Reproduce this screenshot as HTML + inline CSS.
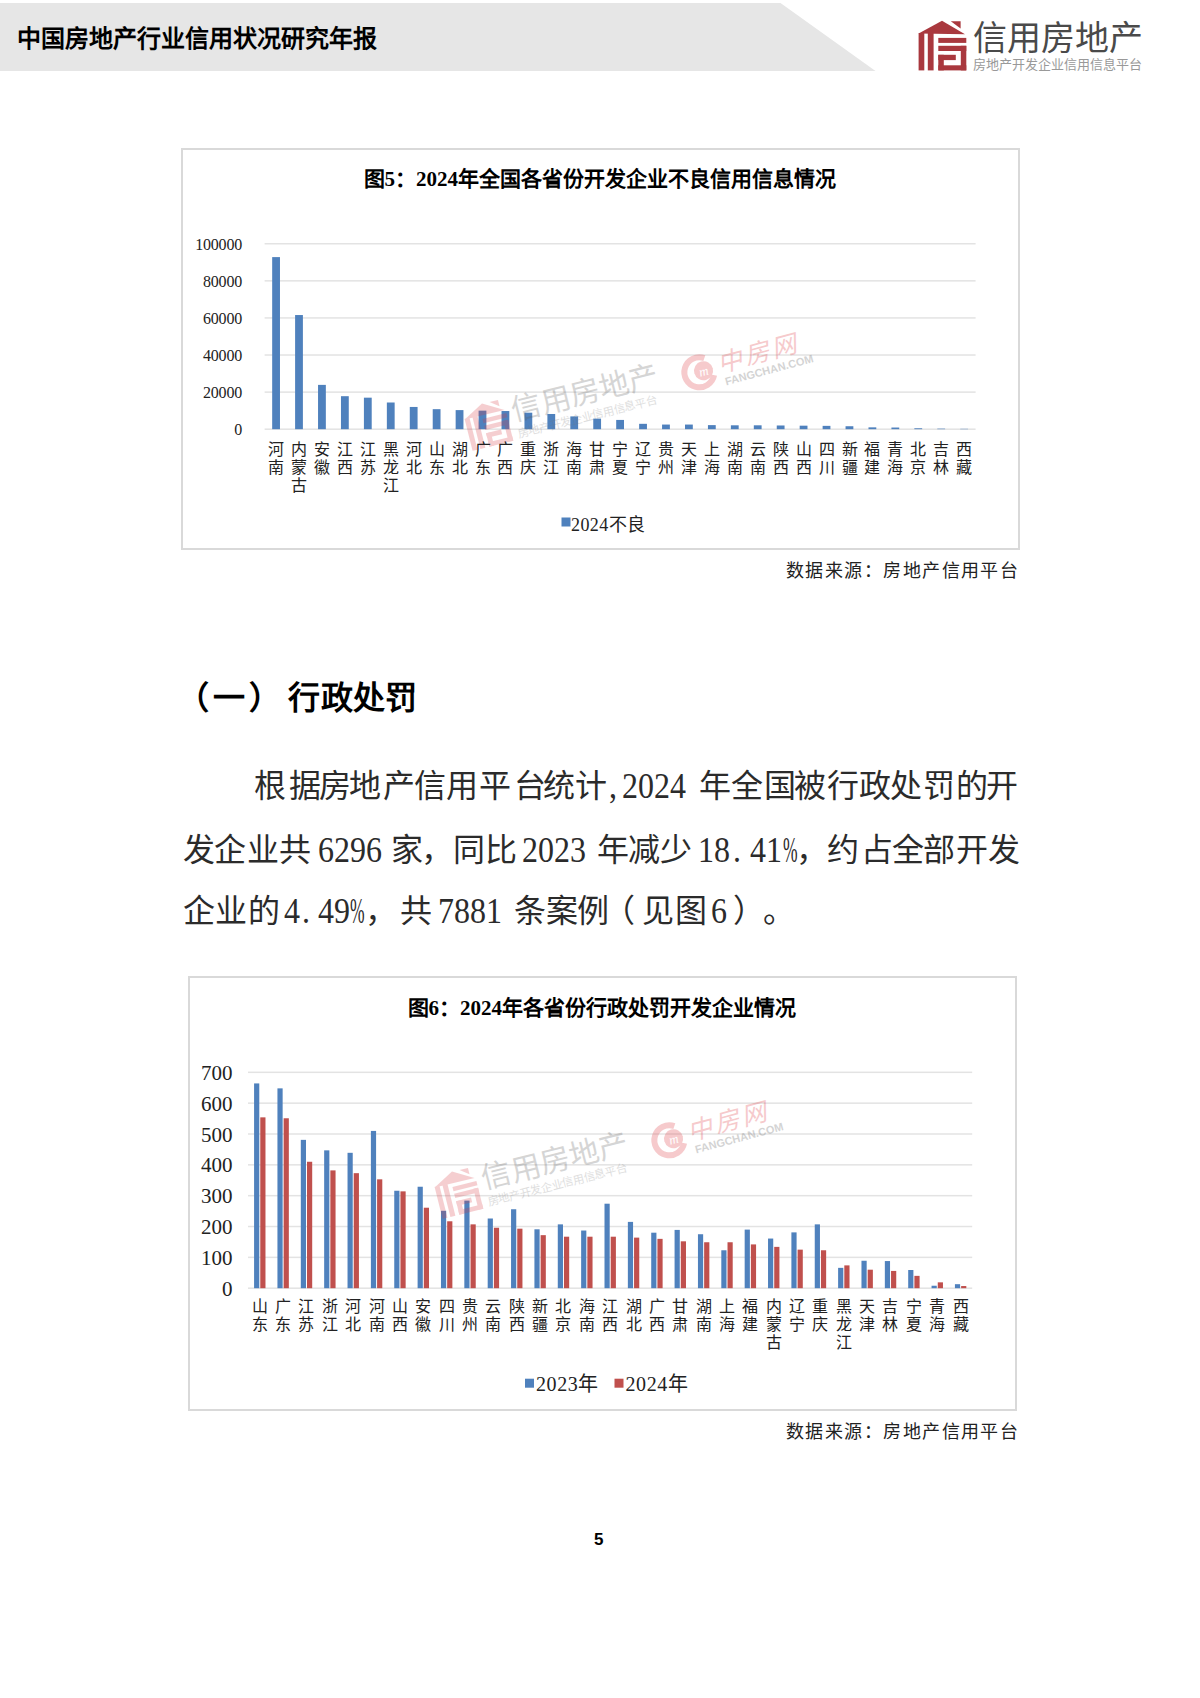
<!DOCTYPE html>
<html lang="zh-CN"><head><meta charset="utf-8">
<style>
html,body{margin:0;padding:0;background:#fff;}
body{width:1200px;height:1698px;position:relative;overflow:hidden;font-family:"Liberation Serif",serif;color:#000;}
.a{position:absolute;white-space:nowrap;}
svg.ov{position:absolute;left:0;top:0;}
.yl1{position:absolute;right:958px;font-size:16px;line-height:18px;color:#222;letter-spacing:-0.2px;}
.yl2{position:absolute;right:967.5px;font-size:21px;line-height:22px;color:#222;}
.xl1{position:absolute;top:440.5px;width:20px;text-align:center;font-size:16px;line-height:18.4px;color:#222;}
.xl2{position:absolute;top:1297.5px;width:20px;text-align:center;font-size:16px;line-height:18px;color:#222;}
</style></head><body>
<svg class="ov" width="1200" height="1698" viewBox="0 0 1200 1698">
<polygon points="0,3 780.5,3 875.5,71 0,71" fill="#e6e6e6"/>
<rect x="182" y="149" width="837" height="400" fill="none" stroke="#d9d9d9" stroke-width="2"/>
<rect x="189" y="977" width="827" height="433" fill="none" stroke="#d9d9d9" stroke-width="2"/>
<rect x="264.6" y="428.45" width="711.0" height="1.5" fill="#e3e3e3"/>
<rect x="264.6" y="391.36" width="711.0" height="1.5" fill="#e3e3e3"/>
<rect x="264.6" y="354.27" width="711.0" height="1.5" fill="#e3e3e3"/>
<rect x="264.6" y="317.18" width="711.0" height="1.5" fill="#e3e3e3"/>
<rect x="264.6" y="280.09" width="711.0" height="1.5" fill="#e3e3e3"/>
<rect x="264.6" y="243.00" width="711.0" height="1.5" fill="#e3e3e3"/>
<rect x="272.17" y="257.10" width="7.8" height="172.10" fill="#4f81bd"/>
<rect x="295.10" y="315.04" width="7.8" height="114.16" fill="#4f81bd"/>
<rect x="318.04" y="384.88" width="7.8" height="44.32" fill="#4f81bd"/>
<rect x="340.97" y="396.19" width="7.8" height="33.01" fill="#4f81bd"/>
<rect x="363.91" y="397.67" width="7.8" height="31.53" fill="#4f81bd"/>
<rect x="386.85" y="402.50" width="7.8" height="26.70" fill="#4f81bd"/>
<rect x="409.78" y="406.95" width="7.8" height="22.25" fill="#4f81bd"/>
<rect x="432.72" y="409.17" width="7.8" height="20.03" fill="#4f81bd"/>
<rect x="455.65" y="410.10" width="7.8" height="19.10" fill="#4f81bd"/>
<rect x="478.59" y="410.65" width="7.8" height="18.55" fill="#4f81bd"/>
<rect x="501.52" y="411.03" width="7.8" height="18.17" fill="#4f81bd"/>
<rect x="524.46" y="412.69" width="7.8" height="16.51" fill="#4f81bd"/>
<rect x="547.39" y="413.99" width="7.8" height="15.21" fill="#4f81bd"/>
<rect x="570.33" y="416.40" width="7.8" height="12.80" fill="#4f81bd"/>
<rect x="593.26" y="418.63" width="7.8" height="10.57" fill="#4f81bd"/>
<rect x="616.20" y="419.93" width="7.8" height="9.27" fill="#4f81bd"/>
<rect x="639.14" y="423.82" width="7.8" height="5.38" fill="#4f81bd"/>
<rect x="662.07" y="424.56" width="7.8" height="4.64" fill="#4f81bd"/>
<rect x="685.01" y="424.56" width="7.8" height="4.64" fill="#4f81bd"/>
<rect x="707.94" y="425.12" width="7.8" height="4.08" fill="#4f81bd"/>
<rect x="730.88" y="425.31" width="7.8" height="3.89" fill="#4f81bd"/>
<rect x="753.81" y="425.31" width="7.8" height="3.89" fill="#4f81bd"/>
<rect x="776.75" y="425.49" width="7.8" height="3.71" fill="#4f81bd"/>
<rect x="799.68" y="425.68" width="7.8" height="3.52" fill="#4f81bd"/>
<rect x="822.62" y="425.86" width="7.8" height="3.34" fill="#4f81bd"/>
<rect x="845.55" y="426.23" width="7.8" height="2.97" fill="#4f81bd"/>
<rect x="868.49" y="427.35" width="7.8" height="1.85" fill="#4f81bd"/>
<rect x="891.43" y="427.53" width="7.8" height="1.67" fill="#4f81bd"/>
<rect x="914.36" y="428.27" width="7.8" height="0.93" fill="#4f81bd"/>
<rect x="937.30" y="428.64" width="7.8" height="0.56" fill="#4f81bd"/>
<rect x="960.23" y="428.83" width="7.8" height="0.37" fill="#4f81bd"/>
<rect x="248.0" y="1287.45" width="724.2" height="1.5" fill="#e3e3e3"/>
<rect x="248.0" y="1256.61" width="724.2" height="1.5" fill="#e3e3e3"/>
<rect x="248.0" y="1225.77" width="724.2" height="1.5" fill="#e3e3e3"/>
<rect x="248.0" y="1194.93" width="724.2" height="1.5" fill="#e3e3e3"/>
<rect x="248.0" y="1164.09" width="724.2" height="1.5" fill="#e3e3e3"/>
<rect x="248.0" y="1133.25" width="724.2" height="1.5" fill="#e3e3e3"/>
<rect x="248.0" y="1102.41" width="724.2" height="1.5" fill="#e3e3e3"/>
<rect x="248.0" y="1071.57" width="724.2" height="1.5" fill="#e3e3e3"/>
<rect x="254.08" y="1083.42" width="5.2" height="204.78" fill="#4f81bd"/>
<rect x="260.28" y="1117.35" width="5.2" height="170.85" fill="#c0504d"/>
<rect x="277.44" y="1088.36" width="5.2" height="199.84" fill="#4f81bd"/>
<rect x="283.64" y="1118.27" width="5.2" height="169.93" fill="#c0504d"/>
<rect x="300.80" y="1139.86" width="5.2" height="148.34" fill="#4f81bd"/>
<rect x="307.00" y="1161.76" width="5.2" height="126.44" fill="#c0504d"/>
<rect x="324.16" y="1150.35" width="5.2" height="137.85" fill="#4f81bd"/>
<rect x="330.36" y="1170.39" width="5.2" height="117.81" fill="#c0504d"/>
<rect x="347.53" y="1152.81" width="5.2" height="135.39" fill="#4f81bd"/>
<rect x="353.73" y="1173.17" width="5.2" height="115.03" fill="#c0504d"/>
<rect x="370.89" y="1130.92" width="5.2" height="157.28" fill="#4f81bd"/>
<rect x="377.09" y="1179.33" width="5.2" height="108.87" fill="#c0504d"/>
<rect x="394.25" y="1190.75" width="5.2" height="97.45" fill="#4f81bd"/>
<rect x="400.45" y="1191.36" width="5.2" height="96.84" fill="#c0504d"/>
<rect x="417.61" y="1186.74" width="5.2" height="101.46" fill="#4f81bd"/>
<rect x="423.81" y="1207.71" width="5.2" height="80.49" fill="#c0504d"/>
<rect x="440.97" y="1210.79" width="5.2" height="77.41" fill="#4f81bd"/>
<rect x="447.17" y="1221.28" width="5.2" height="66.92" fill="#c0504d"/>
<rect x="464.33" y="1200.61" width="5.2" height="87.59" fill="#4f81bd"/>
<rect x="470.53" y="1224.36" width="5.2" height="63.84" fill="#c0504d"/>
<rect x="487.69" y="1218.50" width="5.2" height="69.70" fill="#4f81bd"/>
<rect x="493.89" y="1227.75" width="5.2" height="60.45" fill="#c0504d"/>
<rect x="511.05" y="1209.25" width="5.2" height="78.95" fill="#4f81bd"/>
<rect x="517.25" y="1228.68" width="5.2" height="59.52" fill="#c0504d"/>
<rect x="534.42" y="1229.30" width="5.2" height="58.90" fill="#4f81bd"/>
<rect x="540.62" y="1235.16" width="5.2" height="53.04" fill="#c0504d"/>
<rect x="557.78" y="1224.36" width="5.2" height="63.84" fill="#4f81bd"/>
<rect x="563.98" y="1236.70" width="5.2" height="51.50" fill="#c0504d"/>
<rect x="581.14" y="1230.53" width="5.2" height="57.67" fill="#4f81bd"/>
<rect x="587.34" y="1236.70" width="5.2" height="51.50" fill="#c0504d"/>
<rect x="604.50" y="1203.70" width="5.2" height="84.50" fill="#4f81bd"/>
<rect x="610.70" y="1236.70" width="5.2" height="51.50" fill="#c0504d"/>
<rect x="627.86" y="1221.89" width="5.2" height="66.31" fill="#4f81bd"/>
<rect x="634.06" y="1237.62" width="5.2" height="50.58" fill="#c0504d"/>
<rect x="651.22" y="1232.69" width="5.2" height="55.51" fill="#4f81bd"/>
<rect x="657.42" y="1238.86" width="5.2" height="49.34" fill="#c0504d"/>
<rect x="674.58" y="1229.91" width="5.2" height="58.29" fill="#4f81bd"/>
<rect x="680.78" y="1241.32" width="5.2" height="46.88" fill="#c0504d"/>
<rect x="697.95" y="1234.23" width="5.2" height="53.97" fill="#4f81bd"/>
<rect x="704.15" y="1242.25" width="5.2" height="45.95" fill="#c0504d"/>
<rect x="721.31" y="1250.27" width="5.2" height="37.93" fill="#4f81bd"/>
<rect x="727.51" y="1242.25" width="5.2" height="45.95" fill="#c0504d"/>
<rect x="744.67" y="1229.60" width="5.2" height="58.60" fill="#4f81bd"/>
<rect x="750.87" y="1244.41" width="5.2" height="43.79" fill="#c0504d"/>
<rect x="768.03" y="1238.55" width="5.2" height="49.65" fill="#4f81bd"/>
<rect x="774.23" y="1246.87" width="5.2" height="41.33" fill="#c0504d"/>
<rect x="791.39" y="1232.38" width="5.2" height="55.82" fill="#4f81bd"/>
<rect x="797.59" y="1249.65" width="5.2" height="38.55" fill="#c0504d"/>
<rect x="814.75" y="1224.36" width="5.2" height="63.84" fill="#4f81bd"/>
<rect x="820.95" y="1250.27" width="5.2" height="37.93" fill="#c0504d"/>
<rect x="838.11" y="1267.85" width="5.2" height="20.35" fill="#4f81bd"/>
<rect x="844.31" y="1265.38" width="5.2" height="22.82" fill="#c0504d"/>
<rect x="861.47" y="1260.75" width="5.2" height="27.45" fill="#4f81bd"/>
<rect x="867.67" y="1269.70" width="5.2" height="18.50" fill="#c0504d"/>
<rect x="884.84" y="1261.06" width="5.2" height="27.14" fill="#4f81bd"/>
<rect x="891.04" y="1270.93" width="5.2" height="17.27" fill="#c0504d"/>
<rect x="908.20" y="1270.00" width="5.2" height="18.20" fill="#4f81bd"/>
<rect x="914.40" y="1275.86" width="5.2" height="12.34" fill="#c0504d"/>
<rect x="931.56" y="1285.73" width="5.2" height="2.47" fill="#4f81bd"/>
<rect x="937.76" y="1282.34" width="5.2" height="5.86" fill="#c0504d"/>
<rect x="954.92" y="1284.19" width="5.2" height="4.01" fill="#4f81bd"/>
<rect x="961.12" y="1286.04" width="5.2" height="2.16" fill="#c0504d"/>
<rect x="561.5" y="517.5" width="9" height="9" fill="#4f81bd"/>
<rect x="525" y="1378.7" width="9" height="9" fill="#4f81bd"/>
<rect x="614.5" y="1378.7" width="9" height="9" fill="#c0504d"/>
<g fill="#a9383e">
<polygon points="918.6,33.6 942,20.8 965,34.2"/>
<polygon points="950.8,21.2 960.6,21.2 960.6,28.6"/>
<polygon points="918.6,33 924.3,33 924.3,70.4 918.6,70.4"/>
<rect x="927.8" y="33" width="5.8" height="37.4"/>
<rect x="938.3" y="37.9" width="28" height="5"/>
<rect x="938.3" y="45.8" width="28" height="5.2"/>
<rect x="960.8" y="45.8" width="5.5" height="24.6"/>
<rect x="938.3" y="65.3" width="28" height="5.1"/>
<rect x="938.3" y="54.8" width="5.5" height="15.6"/>
<rect x="938.3" y="54.8" width="17.5" height="5.3"/>
</g>
<g transform="translate(462,408.5) rotate(-14) scale(0.88) translate(-918.6,-20.8)" opacity="0.24">
<g fill="#d9363e">
<polygon points="918.6,33.6 942,20.8 965,34.2"/>
<polygon points="950.8,21.2 960.6,21.2 960.6,28.6"/>
<polygon points="918.6,33 924.3,33 924.3,70.4 918.6,70.4"/>
<rect x="927.8" y="33" width="5.8" height="37.4"/>
<rect x="938.3" y="37.9" width="28" height="5"/>
<rect x="938.3" y="45.8" width="28" height="5.2"/>
<rect x="960.8" y="45.8" width="5.5" height="24.6"/>
<rect x="938.3" y="65.3" width="28" height="5.1"/>
<rect x="938.3" y="54.8" width="5.5" height="15.6"/>
<rect x="938.3" y="54.8" width="17.5" height="5.3"/>
</g>
<text x="973" y="49" font-size="34" fill="#555" font-family="Liberation Sans, sans-serif">信用房地产</text>
<text x="973" y="69" font-size="13" fill="#777" font-family="Liberation Sans, sans-serif">房地产开发企业信用信息平台</text>
</g>
<g transform="translate(699,373) rotate(-15)" opacity="0.28">
<path d="M 9 -13 A 15 15 0 1 0 14 6" fill="none" stroke="#e0434a" stroke-width="6"/>
<circle cx="5" cy="-1" r="9.5" fill="#e0434a"/>
<text x="5" y="4" font-size="13" text-anchor="middle" fill="#fff" font-style="italic" font-family="Liberation Serif, serif">m</text>
<text x="20" y="5" font-size="25" fill="#e0434a" font-style="italic" letter-spacing="3" font-family="Liberation Serif, serif">中房网</text>
<text x="23" y="19" font-size="11" fill="#666" font-weight="bold" font-family="Liberation Sans, sans-serif">FANGCHAN.COM</text>
</g>
<g transform="translate(432,1176.5) rotate(-14) scale(0.88) translate(-918.6,-20.8)" opacity="0.24">
<g fill="#d9363e">
<polygon points="918.6,33.6 942,20.8 965,34.2"/>
<polygon points="950.8,21.2 960.6,21.2 960.6,28.6"/>
<polygon points="918.6,33 924.3,33 924.3,70.4 918.6,70.4"/>
<rect x="927.8" y="33" width="5.8" height="37.4"/>
<rect x="938.3" y="37.9" width="28" height="5"/>
<rect x="938.3" y="45.8" width="28" height="5.2"/>
<rect x="960.8" y="45.8" width="5.5" height="24.6"/>
<rect x="938.3" y="65.3" width="28" height="5.1"/>
<rect x="938.3" y="54.8" width="5.5" height="15.6"/>
<rect x="938.3" y="54.8" width="17.5" height="5.3"/>
</g>
<text x="973" y="49" font-size="34" fill="#555" font-family="Liberation Sans, sans-serif">信用房地产</text>
<text x="973" y="69" font-size="13" fill="#777" font-family="Liberation Sans, sans-serif">房地产开发企业信用信息平台</text>
</g>
<g transform="translate(669,1141) rotate(-15)" opacity="0.28">
<path d="M 9 -13 A 15 15 0 1 0 14 6" fill="none" stroke="#e0434a" stroke-width="6"/>
<circle cx="5" cy="-1" r="9.5" fill="#e0434a"/>
<text x="5" y="4" font-size="13" text-anchor="middle" fill="#fff" font-style="italic" font-family="Liberation Serif, serif">m</text>
<text x="20" y="5" font-size="25" fill="#e0434a" font-style="italic" letter-spacing="3" font-family="Liberation Serif, serif">中房网</text>
<text x="23" y="19" font-size="11" fill="#666" font-weight="bold" font-family="Liberation Sans, sans-serif">FANGCHAN.COM</text>
</g>
</svg>
<div class="a" style="left:16.5px;top:24px;font-size:24px;line-height:30px;font-weight:bold;">中国房地产行业信用状况研究年报</div>
<div class="a" style="left:973px;top:18px;font-size:34px;line-height:40px;color:#4a4a4a;font-family:'Liberation Sans',sans-serif;">信用房地产</div>
<div class="a" style="left:973px;top:57px;font-size:13px;line-height:16px;color:#999;font-family:'Liberation Sans',sans-serif;">房地产开发企业信用信息平台</div>
<div class="a" style="left:363.5px;top:166.5px;font-size:21px;line-height:24px;font-weight:bold;">图5：2024年全国各省份开发企业不良信用信息情况</div>
<div class="yl1" style="top:421.2px">0</div>
<div class="yl1" style="top:384.1px">20000</div>
<div class="yl1" style="top:347.0px">40000</div>
<div class="yl1" style="top:309.9px">60000</div>
<div class="yl1" style="top:272.8px">80000</div>
<div class="yl1" style="top:235.7px">100000</div>
<div class="xl1" style="left:266.1px">河<br>南</div>
<div class="xl1" style="left:289.0px">内<br>蒙<br>古</div>
<div class="xl1" style="left:311.9px">安<br>徽</div>
<div class="xl1" style="left:334.9px">江<br>西</div>
<div class="xl1" style="left:357.8px">江<br>苏</div>
<div class="xl1" style="left:380.7px">黑<br>龙<br>江</div>
<div class="xl1" style="left:403.7px">河<br>北</div>
<div class="xl1" style="left:426.6px">山<br>东</div>
<div class="xl1" style="left:449.6px">湖<br>北</div>
<div class="xl1" style="left:472.5px">广<br>东</div>
<div class="xl1" style="left:495.4px">广<br>西</div>
<div class="xl1" style="left:518.4px">重<br>庆</div>
<div class="xl1" style="left:541.3px">浙<br>江</div>
<div class="xl1" style="left:564.2px">海<br>南</div>
<div class="xl1" style="left:587.2px">甘<br>肃</div>
<div class="xl1" style="left:610.1px">宁<br>夏</div>
<div class="xl1" style="left:633.0px">辽<br>宁</div>
<div class="xl1" style="left:656.0px">贵<br>州</div>
<div class="xl1" style="left:678.9px">天<br>津</div>
<div class="xl1" style="left:701.8px">上<br>海</div>
<div class="xl1" style="left:724.8px">湖<br>南</div>
<div class="xl1" style="left:747.7px">云<br>南</div>
<div class="xl1" style="left:770.6px">陕<br>西</div>
<div class="xl1" style="left:793.6px">山<br>西</div>
<div class="xl1" style="left:816.5px">四<br>川</div>
<div class="xl1" style="left:839.5px">新<br>疆</div>
<div class="xl1" style="left:862.4px">福<br>建</div>
<div class="xl1" style="left:885.3px">青<br>海</div>
<div class="xl1" style="left:908.3px">北<br>京</div>
<div class="xl1" style="left:931.2px">吉<br>林</div>
<div class="xl1" style="left:954.1px">西<br>藏</div>
<div class="yl2" style="top:1277.7px">0</div>
<div class="yl2" style="top:1246.9px">100</div>
<div class="yl2" style="top:1216.0px">200</div>
<div class="yl2" style="top:1185.2px">300</div>
<div class="yl2" style="top:1154.3px">400</div>
<div class="yl2" style="top:1123.5px">500</div>
<div class="yl2" style="top:1092.7px">600</div>
<div class="yl2" style="top:1061.8px">700</div>
<div class="xl2" style="left:249.7px">山<br>东</div>
<div class="xl2" style="left:273.0px">广<br>东</div>
<div class="xl2" style="left:296.4px">江<br>苏</div>
<div class="xl2" style="left:319.8px">浙<br>江</div>
<div class="xl2" style="left:343.1px">河<br>北</div>
<div class="xl2" style="left:366.5px">河<br>南</div>
<div class="xl2" style="left:389.8px">山<br>西</div>
<div class="xl2" style="left:413.2px">安<br>徽</div>
<div class="xl2" style="left:436.6px">四<br>川</div>
<div class="xl2" style="left:459.9px">贵<br>州</div>
<div class="xl2" style="left:483.3px">云<br>南</div>
<div class="xl2" style="left:506.7px">陕<br>西</div>
<div class="xl2" style="left:530.0px">新<br>疆</div>
<div class="xl2" style="left:553.4px">北<br>京</div>
<div class="xl2" style="left:576.7px">海<br>南</div>
<div class="xl2" style="left:600.1px">江<br>西</div>
<div class="xl2" style="left:623.5px">湖<br>北</div>
<div class="xl2" style="left:646.8px">广<br>西</div>
<div class="xl2" style="left:670.2px">甘<br>肃</div>
<div class="xl2" style="left:693.5px">湖<br>南</div>
<div class="xl2" style="left:716.9px">上<br>海</div>
<div class="xl2" style="left:740.3px">福<br>建</div>
<div class="xl2" style="left:763.6px">内<br>蒙<br>古</div>
<div class="xl2" style="left:787.0px">辽<br>宁</div>
<div class="xl2" style="left:810.4px">重<br>庆</div>
<div class="xl2" style="left:833.7px">黑<br>龙<br>江</div>
<div class="xl2" style="left:857.1px">天<br>津</div>
<div class="xl2" style="left:880.4px">吉<br>林</div>
<div class="xl2" style="left:903.8px">宁<br>夏</div>
<div class="xl2" style="left:927.2px">青<br>海</div>
<div class="xl2" style="left:950.5px">西<br>藏</div>
<div class="a" style="left:571px;top:514.5px;font-size:18px;line-height:20px;color:#222;"><span style="letter-spacing:0.4px">2024</span>不良</div>
<div class="a" style="left:786px;top:559.5px;font-size:18px;line-height:22px;letter-spacing:1.45px;color:#222;">数据来源：房地产信用平台</div>
<span class="a" style="left:176.75px;top:677.5px;font-size:32px;font-weight:bold;line-height:40px;color:#000">（</span>
<span class="a" style="left:212.5px;top:677.5px;font-size:32px;font-weight:bold;line-height:40px;color:#000">一</span>
<span class="a" style="left:248.8px;top:677.5px;font-size:32px;font-weight:bold;line-height:40px;color:#000">）</span>
<span class="a" style="left:288.4px;top:677.5px;font-size:32px;font-weight:bold;line-height:40px;color:#000">行</span>
<span class="a" style="left:320.7px;top:677.5px;font-size:32px;font-weight:bold;line-height:40px;color:#000">政</span>
<span class="a" style="left:353px;top:677.5px;font-size:32px;font-weight:bold;line-height:40px;color:#000">处</span>
<span class="a" style="left:385px;top:677.5px;font-size:32px;font-weight:bold;line-height:40px;color:#000">罚</span>
<span class="a" style="left:254px;top:766px;font-size:32px;line-height:40px;color:#2b2b2b">根</span>
<span class="a" style="left:289px;top:766px;font-size:32px;line-height:40px;color:#2b2b2b">据</span>
<span class="a" style="left:319px;top:766px;font-size:32px;line-height:40px;color:#2b2b2b">房</span>
<span class="a" style="left:349px;top:766px;font-size:32px;line-height:40px;color:#2b2b2b">地</span>
<span class="a" style="left:382.75px;top:766px;font-size:32px;line-height:40px;color:#2b2b2b">产</span>
<span class="a" style="left:413.7px;top:766px;font-size:32px;line-height:40px;color:#2b2b2b">信</span>
<span class="a" style="left:445.7px;top:766px;font-size:32px;line-height:40px;color:#2b2b2b">用</span>
<span class="a" style="left:479px;top:766px;font-size:32px;line-height:40px;color:#2b2b2b">平</span>
<span class="a" style="left:513.7px;top:766px;font-size:32px;line-height:40px;color:#2b2b2b">台</span>
<span class="a" style="left:543px;top:766px;font-size:32px;line-height:40px;color:#2b2b2b">统</span>
<span class="a" style="left:575px;top:766px;font-size:32px;line-height:40px;color:#2b2b2b">计</span>
<span class="a" style="left:608.7px;top:766.5px;font-size:35px;line-height:40px;color:#2b2b2b;display:inline-block;transform:scaleX(0.9143);transform-origin:0 0">,</span>
<span class="a" style="left:621.7px;top:766.5px;font-size:35px;line-height:40px;color:#2b2b2b;display:inline-block;transform:scaleX(0.9143);transform-origin:0 0">2024</span>
<span class="a" style="left:699px;top:766px;font-size:32px;line-height:40px;color:#2b2b2b">年</span>
<span class="a" style="left:730.6px;top:766px;font-size:32px;line-height:40px;color:#2b2b2b">全</span>
<span class="a" style="left:763.6px;top:766px;font-size:32px;line-height:40px;color:#2b2b2b">国</span>
<span class="a" style="left:793.9px;top:766px;font-size:32px;line-height:40px;color:#2b2b2b">被</span>
<span class="a" style="left:826.9px;top:766px;font-size:32px;line-height:40px;color:#2b2b2b">行</span>
<span class="a" style="left:858.5px;top:766px;font-size:32px;line-height:40px;color:#2b2b2b">政</span>
<span class="a" style="left:890.1px;top:766px;font-size:32px;line-height:40px;color:#2b2b2b">处</span>
<span class="a" style="left:923.1px;top:766px;font-size:32px;line-height:40px;color:#2b2b2b">罚</span>
<span class="a" style="left:956.1px;top:766px;font-size:32px;line-height:40px;color:#2b2b2b">的</span>
<span class="a" style="left:986.4px;top:766px;font-size:32px;line-height:40px;color:#2b2b2b">开</span>
<span class="a" style="left:182.75px;top:830px;font-size:32px;line-height:40px;color:#2b2b2b">发</span>
<span class="a" style="left:214px;top:830px;font-size:32px;line-height:40px;color:#2b2b2b">企</span>
<span class="a" style="left:246.5px;top:830px;font-size:32px;line-height:40px;color:#2b2b2b">业</span>
<span class="a" style="left:279px;top:830px;font-size:32px;line-height:40px;color:#2b2b2b">共</span>
<span class="a" style="left:317.75px;top:830.5px;font-size:35px;line-height:40px;color:#2b2b2b;display:inline-block;transform:scaleX(0.9143);transform-origin:0 0">6296</span>
<span class="a" style="left:391px;top:830px;font-size:32px;line-height:40px;color:#2b2b2b">家</span>
<span class="a" style="left:421.3px;top:830px;font-size:32px;line-height:40px;color:#2b2b2b">，</span>
<span class="a" style="left:453.2px;top:830px;font-size:32px;line-height:40px;color:#2b2b2b">同</span>
<span class="a" style="left:485.3px;top:830px;font-size:32px;line-height:40px;color:#2b2b2b">比</span>
<span class="a" style="left:522.1px;top:830.5px;font-size:35px;line-height:40px;color:#2b2b2b;display:inline-block;transform:scaleX(0.9143);transform-origin:0 0">2023</span>
<span class="a" style="left:597.2px;top:830px;font-size:32px;line-height:40px;color:#2b2b2b">年</span>
<span class="a" style="left:628.4px;top:830px;font-size:32px;line-height:40px;color:#2b2b2b">减</span>
<span class="a" style="left:659.5px;top:830px;font-size:32px;line-height:40px;color:#2b2b2b">少</span>
<span class="a" style="left:698.4px;top:830.5px;font-size:35px;line-height:40px;color:#2b2b2b;display:inline-block;transform:scaleX(0.9143);transform-origin:0 0">18</span>
<span class="a" style="left:733px;top:830.5px;font-size:35px;line-height:40px;color:#2b2b2b;display:inline-block;transform:scaleX(0.9143);transform-origin:0 0">.</span>
<span class="a" style="left:749.5px;top:830.5px;font-size:35px;line-height:40px;color:#2b2b2b;display:inline-block;transform:scaleX(0.9143);transform-origin:0 0">41</span>
<span class="a" style="left:783px;top:830.5px;font-size:35px;line-height:40px;color:#2b2b2b;display:inline-block;transform:scaleX(0.5);transform-origin:0 0">%</span>
<span class="a" style="left:796.4px;top:830px;font-size:32px;line-height:40px;color:#2b2b2b">，</span>
<span class="a" style="left:826.9px;top:830px;font-size:32px;line-height:40px;color:#2b2b2b">约</span>
<span class="a" style="left:861.3px;top:830px;font-size:32px;line-height:40px;color:#2b2b2b">占</span>
<span class="a" style="left:891.5px;top:830px;font-size:32px;line-height:40px;color:#2b2b2b">全</span>
<span class="a" style="left:923.1px;top:830px;font-size:32px;line-height:40px;color:#2b2b2b">部</span>
<span class="a" style="left:956.1px;top:830px;font-size:32px;line-height:40px;color:#2b2b2b">开</span>
<span class="a" style="left:987.8px;top:830px;font-size:32px;line-height:40px;color:#2b2b2b">发</span>
<span class="a" style="left:182.75px;top:891px;font-size:32px;line-height:40px;color:#2b2b2b">企</span>
<span class="a" style="left:215.25px;top:891px;font-size:32px;line-height:40px;color:#2b2b2b">业</span>
<span class="a" style="left:247.75px;top:891px;font-size:32px;line-height:40px;color:#2b2b2b">的</span>
<span class="a" style="left:284.4px;top:891.5px;font-size:35px;line-height:40px;color:#2b2b2b;display:inline-block;transform:scaleX(0.9143);transform-origin:0 0">4</span>
<span class="a" style="left:301.75px;top:891.5px;font-size:35px;line-height:40px;color:#2b2b2b;display:inline-block;transform:scaleX(0.9143);transform-origin:0 0">.</span>
<span class="a" style="left:317.75px;top:891.5px;font-size:35px;line-height:40px;color:#2b2b2b;display:inline-block;transform:scaleX(0.9143);transform-origin:0 0">49</span>
<span class="a" style="left:349.5px;top:891.5px;font-size:35px;line-height:40px;color:#2b2b2b;display:inline-block;transform:scaleX(0.5);transform-origin:0 0">%</span>
<span class="a" style="left:364.75px;top:891px;font-size:32px;line-height:40px;color:#2b2b2b">，</span>
<span class="a" style="left:400.25px;top:891px;font-size:32px;line-height:40px;color:#2b2b2b">共</span>
<span class="a" style="left:438px;top:891.5px;font-size:35px;line-height:40px;color:#2b2b2b;display:inline-block;transform:scaleX(0.9143);transform-origin:0 0">7881</span>
<span class="a" style="left:514px;top:891px;font-size:32px;line-height:40px;color:#2b2b2b">条</span>
<span class="a" style="left:545.6px;top:891px;font-size:32px;line-height:40px;color:#2b2b2b">案</span>
<span class="a" style="left:577.3px;top:891px;font-size:32px;line-height:40px;color:#2b2b2b">例</span>
<span class="a" style="left:603px;top:891px;font-size:32px;line-height:40px;color:#2b2b2b">（</span>
<span class="a" style="left:641.9px;top:891px;font-size:32px;line-height:40px;color:#2b2b2b">见</span>
<span class="a" style="left:674.9px;top:891px;font-size:32px;line-height:40px;color:#2b2b2b">图</span>
<span class="a" style="left:710.6px;top:891.5px;font-size:35px;line-height:40px;color:#2b2b2b;display:inline-block;transform:scaleX(0.9143);transform-origin:0 0">6</span>
<span class="a" style="left:733px;top:891px;font-size:32px;line-height:40px;color:#2b2b2b">）</span>
<span class="a" style="left:762.9px;top:891px;font-size:32px;line-height:40px;color:#2b2b2b">。</span>
<div class="a" style="left:407.5px;top:996px;font-size:21px;line-height:24px;font-weight:bold;">图6：2024年各省份行政处罚开发企业情况</div>
<div class="a" style="left:536px;top:1373px;font-size:20px;line-height:22px;color:#222;"><span style="letter-spacing:0.6px">2023</span>年</div>
<div class="a" style="left:625.5px;top:1373px;font-size:20px;line-height:22px;color:#222;"><span style="letter-spacing:0.6px">2024</span>年</div>
<div class="a" style="left:786px;top:1420.5px;font-size:18px;line-height:22px;letter-spacing:1.45px;color:#222;">数据来源：房地产信用平台</div>
<div class="a" style="left:594px;top:1531px;font-weight:bold;font-size:17px;line-height:18px;font-family:'Liberation Sans',sans-serif;">5</div>
</body></html>
